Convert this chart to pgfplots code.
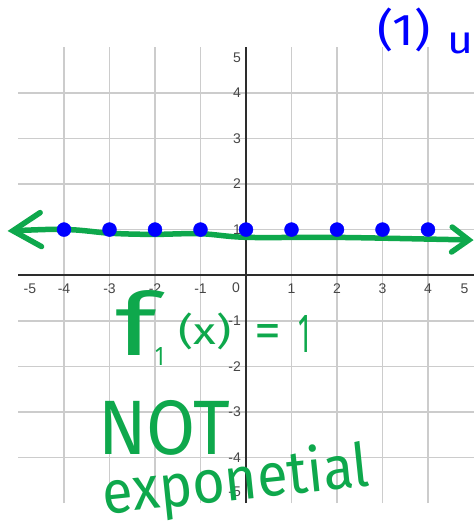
\documentclass[border=0pt]{standalone}
\usepackage{pgfplots}
\pgfplotsset{compat=1.18}
\usepackage{fontspec}
\setmainfont{Liberation Sans}
\newfontfamily\hand{Fira Sans}
\usetikzlibrary{arrows.meta}
\usepackage{graphicx}

\definecolor{gridgray}{RGB}{204,204,204}
\definecolor{axisgray}{RGB}{45,45,45}
\definecolor{labelgray}{RGB}{70,70,70}
\definecolor{inkgreen}{RGB}{14,168,76}
\definecolor{inkblue}{RGB}{0,0,255}

\begin{document}
\begin{tikzpicture}[x=1pt,y=1pt]
\path[use as bounding box] (0,0) rectangle (474,529);
\clip (0,0) rectangle (474,529);
\begin{axis}[
  at={(18.5pt,25.8pt)}, anchor=south west,
  scale only axis, width=455pt, height=456pt,
  xmin=-5, xmax=5, ymin=-5, ymax=5,
  axis lines=middle,
  axis line style={-, draw=axisgray, line width=1.5pt},
  xtick={-4,...,4}, ytick={-4,...,4},
  xticklabels={-4,-3,-2,-1,{},1,2,3,4},
  yticklabels={-4,-3,-2,-1,{},1,2,3,4},
  grid=major,
  major grid style={draw=gridgray, line width=1.6pt},
  major tick length=0pt,
  tick label style={font=\fontsize{14}{16}\selectfont, text=labelgray, inner sep=0pt},
  xticklabel style={anchor=north, yshift=-8.5pt},
  yticklabel style={anchor=east, xshift=-5pt},
  clip=false,
]
% points of the constant function
\addplot[only marks, mark=*, mark size=7pt, draw=inkblue, fill=inkblue]
  coordinates {(-4,1) (-3,1) (-2,1) (-1,1) (0,1) (1,1) (2,1) (3,1) (4,1)};
% sketched line through the points
\addplot[inkgreen, line width=5.5pt, line cap=round, line join=round, smooth, tension=0.6,
  {Straight Barb[length=28pt,width=34pt,line cap=round]}-{Straight Barb[length=17pt,width=25pt,line cap=round]}]
  coordinates {(-5.24,0.97) (-3.93,1.0) (-2.98,0.92) (-2.04,0.895) (-1.01,0.91)
               (0.02,0.83) (1.91,0.83) (4.10,0.79) (5.0,0.77)};
% boundary tick labels, pulled inside the grid
\node[font=\fontsize{14}{16}\selectfont, text=labelgray, inner sep=0pt, anchor=north, yshift=-8.5pt] at (axis cs:-4.75,0) {-5};
\node[font=\fontsize{14}{16}\selectfont, text=labelgray, inner sep=0pt, anchor=north, yshift=-8.5pt] at (axis cs:4.8,0) {5};
\node[font=\fontsize{14}{16}\selectfont, text=labelgray, inner sep=0pt, anchor=east, xshift=-5pt] at (axis cs:0,4.76) {5};
\node[font=\fontsize{14}{16}\selectfont, text=labelgray, inner sep=0pt, anchor=east, xshift=-5pt] at (axis cs:0,-4.75) {-5};
\node[font=\fontsize{14}{16}\selectfont, text=labelgray, inner sep=0pt, anchor=north east, xshift=-6pt, yshift=-7pt] at (axis cs:0,0) {0};
\end{axis}

% handwritten notes
\begin{scope}[every node/.style={inner sep=0pt, anchor=north west, font=\hand}]
\node[text=inkgreen] at (115,239) {\resizebox*{42pt}{65pt}{f}};
\node[text=inkgreen] at (155,182) {\resizebox*{9pt}{18pt}{1}};
\node[text=inkgreen] at (178,216) {\resizebox*{53pt}{37pt}{(x)}};
\node[text=inkgreen] at (254,205) {\resizebox*{27pt}{23pt}{=}};
\node[text=inkgreen] at (298,214) {\resizebox*{12pt}{37pt}{1}};
\node[text=inkgreen] at (98,129) {\resizebox*{132pt}{55pt}{NOT}};
\node[text=inkgreen, anchor=center, rotate=6] at (236,46) {\resizebox*{268pt}{60pt}{exponetial}};
\node[text=inkblue] at (377,521) {\resizebox*{53pt}{44pt}{(1)}};
\node[text=inkblue] at (447,496) {\resizebox*{26pt}{21pt}{u}};
\end{scope}
\end{tikzpicture}
\end{document}
